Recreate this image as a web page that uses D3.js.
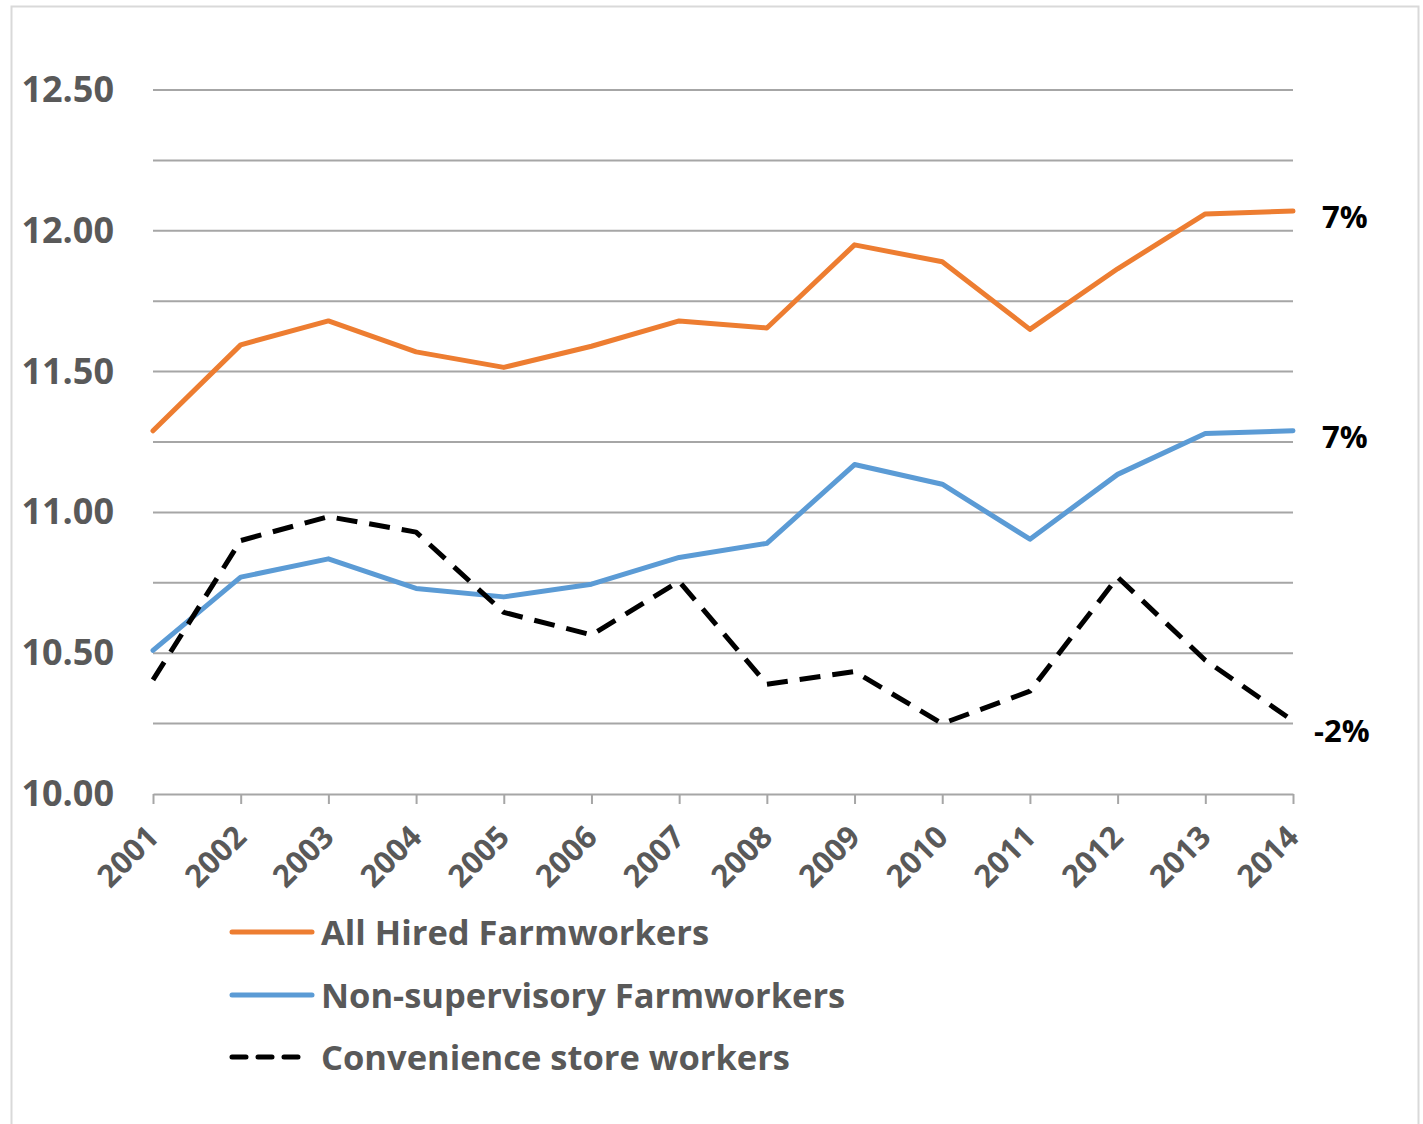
<!DOCTYPE html>
<html>
<head>
<meta charset="utf-8">
<script src="https://cdn.jsdelivr.net/npm/d3@7"></script>
<style>
  body { margin: 0; background: #fff; }
  text { font-family: "Open Sans", Lato, sans-serif; font-weight: 700; }
</style>
</head>
<body>
<svg id="svg1" width="1423" height="1124"></svg>
<script>
// wages per hour, 2001-2014

var years = [2001, 2002, 2003, 2004, 2005, 2006, 2007, 2008, 2009, 2010, 2011, 2012, 2013, 2014];
var allHired = [11.29, 11.595, 11.68, 11.57, 11.515, 11.59, 11.68, 11.655, 11.95, 11.89, 11.65, 11.865, 12.06, 12.07];
var nonSuper = [10.51, 10.77, 10.835, 10.73, 10.70, 10.745, 10.84, 10.89, 11.17, 11.10, 10.905, 11.135, 11.28, 11.29];
var convStore = [10.405, 10.90, 10.985, 10.93, 10.645, 10.565, 10.755, 10.39, 10.435, 10.25, 10.365, 10.77, 10.475, 10.26];
var seriesNames = ["All Hired Farmworkers", "Non-supervisory Farmworkers", "Convenience store workers"];
var endLabels = ["7%", "7%", "-2%"];
var yTicks = [10.00, 10.25, 10.50, 10.75, 11.00, 11.25, 11.50, 11.75, 12.00, 12.25, 12.50];

var colors = ["#ED7D31", "#5B9BD5", "#000000"];
var dashes = [null, null, "21,12"];

var svg = d3.select("#svg1");

// outer frame
svg.append("rect")
    .attr("x", 11.5).attr("y", 6.5)
    .attr("width", 1407).attr("height", 1140)
    .attr("fill", "none")
    .attr("stroke", "#d9d9d9")
    .attr("stroke-width", 2);

var x = d3.scalePoint().domain(years).range([153, 1293]);
var y = d3.scaleLinear().domain([10, 12.5]).range([794, 90]);

// gridlines
svg.append("g").selectAll("line")
    .data(yTicks.filter(function (d) { return d > 10; }))
    .enter().append("line")
    .attr("x1", 153).attr("x2", 1293)
    .attr("y1", function (d) { return y(d); })
    .attr("y2", function (d) { return y(d); })
    .attr("stroke", "#a6a6a6")
    .attr("stroke-width", 2);

// y labels
svg.append("g").selectAll("text")
    .data(yTicks.filter(function (d, i) { return i % 2 == 0; }))
    .enter().append("text")
    .attr("x", 114)
    .attr("y", function (d) { return y(d) + 12; })
    .attr("text-anchor", "end")
    .attr("font-size", 36)
    .attr("fill", "#595959")
    .text(function (d) { return d3.format(".2f")(d); });

// x axis
var xAxis = svg.append("g")
    .attr("transform", "translate(0,794)")
    .call(d3.axisBottom(x).tickSize(10).tickSizeOuter(0));
xAxis.select(".domain").attr("stroke", "#a6a6a6").attr("stroke-width", 2);
xAxis.selectAll(".tick line").attr("stroke", "#a6a6a6").attr("stroke-width", 2);
xAxis.selectAll(".tick text")
    .attr("font-family", "'Open Sans', sans-serif")
    .attr("font-weight", "700")
    .attr("font-size", 31)
    .attr("fill", "#595959")
    .attr("text-anchor", "end")
    .attr("dy", null)
    .attr("y", 0)
    .attr("x", 0)
    .attr("transform", "translate(7,45) rotate(-45)");

// lines
var data = [allHired, nonSuper, convStore];
var line = d3.line()
    .x(function (d, i) { return x(years[i]); })
    .y(function (d) { return y(d); });

for (var s = 0; s < data.length; s++)
{
    svg.append("path")
        .datum(data[s])
        .attr("d", line)
        .attr("fill", "none")
        .attr("stroke", colors[s])
        .attr("stroke-width", 5)
        .attr("stroke-linejoin", "round")
        .attr("stroke-linecap", s == 2 ? "butt" : "round")
        .attr("stroke-dasharray", dashes[s]);

    var last = data[s][data[s].length - 1];
    svg.append("text")
        .attr("x", s == 2 ? 1314 : 1322)
        .attr("y", s == 2 ? y(last) + 21 : y(last) + 17)
        .attr("font-size", 31)
        .attr("fill", "#000")
        .text(endLabels[s]);
}

// legend
var legendY = [932, 995, 1057];
for (var k = 0; k < seriesNames.length; k++)
{
    svg.append("line")
        .attr("x1", 232).attr("x2", k == 2 ? 302 : 312)
        .attr("y1", legendY[k]).attr("y2", legendY[k])
        .attr("stroke", colors[k])
        .attr("stroke-width", 5)
        .attr("stroke-linecap", "round")
        .attr("stroke-dasharray", k == 2 ? "14,12" : null);

    svg.append("text")
        .attr("x", 321)
        .attr("y", legendY[k] + 13)
        .attr("font-size", 34.5)
        .attr("fill", "#595959")
        .text(seriesNames[k]);
}
</script>
</body>
</html>
